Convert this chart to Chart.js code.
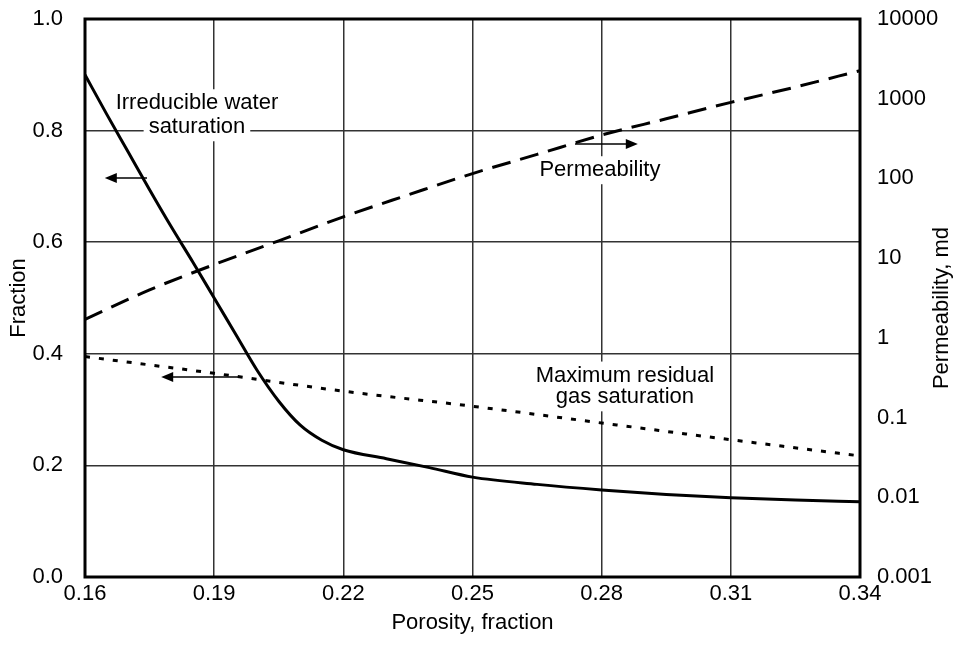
<!DOCTYPE html>
<html>
<head>
<meta charset="utf-8">
<script src="https://cdn.jsdelivr.net/npm/chart.js@4/dist/chart.umd.min.js"></script>
<style>
  html, body { margin: 0; padding: 0; background: #fff; }
  #wrap { width: 957px; height: 653px; }
</style>
</head>
<body>
<div id="wrap"><canvas id="chart" width="957" height="653"></canvas></div>
<script>
// x axis (porosity) ticks
const xTicks = [0.16, 0.19, 0.22, 0.25, 0.28, 0.31, 0.34];
const fracTicks = [0, 0.2, 0.4, 0.6, 0.8, 1.0];
const permTicks = [0.001, 0.01, 0.1, 1, 10, 100, 1000, 10000];
const permTickLabels = ['0.001', '0.01', '0.1', '1', '10', '100', '1000', '10000'];

// Irreducible water saturation (left axis)
const swPorosity = [0.16, 0.165, 0.17, 0.175, 0.18, 0.185, 0.19, 0.195, 0.2, 0.205, 0.21, 0.215, 0.22, 0.23, 0.24, 0.25, 0.265, 0.28, 0.295, 0.31, 0.325, 0.34];
const swValues = [0.90, 0.83, 0.762, 0.694, 0.628, 0.565, 0.5, 0.435, 0.37, 0.315, 0.272, 0.245, 0.228, 0.212, 0.196, 0.179, 0.166, 0.156, 0.148, 0.142, 0.138, 0.135];

// Permeability, md (right log axis)
const permPorosity = [0.16, 0.175, 0.19, 0.205, 0.22, 0.235, 0.25, 0.265, 0.28, 0.295, 0.31, 0.325, 0.34];
const permValues = [1.7, 4.0, 8.3, 16.5, 33, 62, 115, 200, 350, 560, 900, 1400, 2250];

// Maximum residual gas saturation (left axis)
const sgrPorosity = [0.16, 0.19, 0.22, 0.25, 0.28, 0.31, 0.34];
const sgrValues = [0.395, 0.365, 0.333, 0.306, 0.276, 0.246, 0.217];

// annotations (data coordinates, left axis)
const labels = [
  { lines: ['Irreducible water', 'saturation'], x: 0.186, y: [0.849, 0.806] },
  { lines: ['Permeability'], x: 0.2796, y: [0.729] },
  { lines: ['Maximum residual', 'gas saturation'], x: 0.2854, y: [0.361, 0.322] }
];
const arrows = [
  { from: 0.1744, to: 0.1646, y: 0.715 },
  { from: 0.196, to: 0.1777, y: 0.3584 },
  { from: 0.2738, to: 0.2884, y: 0.776 }
];

const FONT = '"Liberation Sans", Arial, sans-serif';

function pts(xs, ys) {
  return xs.map((x, i) => ({ x: x, y: ys[i] }));
}

const annotationPlugin = {
  id: 'annotationPlugin',
  beforeDatasetsDraw(chart) {
    const ctx = chart.ctx;
    const xs = chart.scales.x, ys = chart.scales.y;
    ctx.save();
    ctx.font = '22px ' + FONT;
    ctx.textAlign = 'center';
    ctx.textBaseline = 'middle';
    labels.forEach(l => {
      const cx = xs.getPixelForValue(l.x);
      l.lines.forEach((t, i) => {
        const cy = ys.getPixelForValue(l.y[i]);
        const w = ctx.measureText(t).width;
        ctx.fillStyle = '#fff';
        ctx.fillRect(cx - w / 2 - 5, cy - 14, w + 10, 28);
      });
      l.lines.forEach((t, i) => {
        const cy = ys.getPixelForValue(l.y[i]);
        ctx.fillStyle = '#000';
        ctx.fillText(t, cx, cy);
      });
    });
    ctx.restore();
  },
  afterDraw(chart) {
    const ctx = chart.ctx;
    const a = chart.chartArea;
    const xs = chart.scales.x, ys = chart.scales.y;
    ctx.save();
    // arrows
    ctx.strokeStyle = '#000';
    ctx.fillStyle = '#000';
    ctx.lineWidth = 1.5;
    arrows.forEach(ar => {
      const x0 = xs.getPixelForValue(ar.from);
      const x1 = xs.getPixelForValue(ar.to);
      const y = ys.getPixelForValue(ar.y);
      const dir = x1 > x0 ? 1 : -1;
      ctx.beginPath();
      ctx.moveTo(x0, y);
      ctx.lineTo(x1 - dir * 8, y);
      ctx.stroke();
      ctx.beginPath();
      ctx.moveTo(x1, y);
      ctx.lineTo(x1 - dir * 12, y - 5);
      ctx.lineTo(x1 - dir * 12, y + 5);
      ctx.closePath();
      ctx.fill();
    });
    // frame
    ctx.lineWidth = 3;
    ctx.strokeRect(a.left, a.top, a.right - a.left, a.bottom - a.top);
    // axis titles
    ctx.font = '22px ' + FONT;
    ctx.textAlign = 'center';
    ctx.textBaseline = 'middle';
    ctx.fillText('Porosity, fraction', (a.left + a.right) / 2, a.bottom + 46);
    ctx.save();
    ctx.translate(19, (a.top + a.bottom) / 2);
    ctx.rotate(-Math.PI / 2);
    ctx.fillText('Fraction', 0, 0);
    ctx.restore();
    ctx.save();
    ctx.translate(942, (a.top + a.bottom) / 2 + 10);
    ctx.rotate(-Math.PI / 2);
    ctx.fillText('Permeability, md', 0, 0);
    ctx.restore();
    ctx.restore();
  }
};

const gridStyle = { color: '#333', lineWidth: 1.5, drawTicks: false };
const tickFont = { family: FONT, size: 22 };

function fixWidth(w) {
  return s => {
    s.width = w;
    s.paddingTop = 0;
    s.paddingBottom = 0;
  };
}

new Chart(document.getElementById('chart'), {
  type: 'line',
  data: {
    datasets: [
      {
        label: 'Irreducible water saturation',
        data: pts(swPorosity, swValues),
        yAxisID: 'y',
        borderColor: '#000',
        borderWidth: 3,
        pointRadius: 0,
        cubicInterpolationMode: 'monotone',
        fill: false
      },
      {
        label: 'Permeability',
        data: pts(permPorosity, permValues),
        yAxisID: 'y2',
        borderColor: '#000',
        borderWidth: 3,
        borderDash: [19, 10],
        pointRadius: 0,
        cubicInterpolationMode: 'monotone',
        fill: false
      },
      {
        label: 'Maximum residual gas saturation',
        data: pts(sgrPorosity, sgrValues),
        yAxisID: 'y',
        borderColor: '#000',
        borderWidth: 3,
        borderDash: [5, 9],
        pointRadius: 0,
        cubicInterpolationMode: 'monotone',
        fill: false
      }
    ]
  },
  options: {
    responsive: false,
    animation: false,
    layout: { padding: { top: 19, left: 0, right: 0, bottom: 0 } },
    plugins: {
      legend: { display: false },
      tooltip: { enabled: false }
    },
    scales: {
      x: {
        type: 'linear',
        min: 0.16,
        max: 0.34,
        afterBuildTicks: s => { s.ticks = xTicks.map(v => ({ value: v })); },
        afterFit: s => { s.height = 76; s.paddingLeft = 0; s.paddingRight = 0; },
        ticks: { color: '#000', font: tickFont, padding: 4, maxRotation: 0, callback: v => v.toFixed(2) },
        grid: gridStyle,
        border: { display: false }
      },
      y: {
        type: 'linear',
        position: 'left',
        min: 0,
        max: 1,
        afterBuildTicks: s => { s.ticks = fracTicks.map(v => ({ value: v })); },
        afterFit: fixWidth(85),
        ticks: { color: '#000', font: tickFont, padding: 22, callback: v => v.toFixed(1) },
        grid: gridStyle,
        border: { display: false }
      },
      y2: {
        type: 'logarithmic',
        position: 'right',
        min: 0.001,
        max: 10000,
        afterBuildTicks: s => { s.ticks = permTicks.map(v => ({ value: v })); },
        afterFit: fixWidth(97),
        ticks: {
          color: '#000',
          font: tickFont,
          padding: 17,
          callback: (v, i) => permTickLabels[i]
        },
        grid: { display: false, drawTicks: false },
        border: { display: false }
      }
    }
  },
  plugins: [annotationPlugin]
});
</script>
</body>
</html>
